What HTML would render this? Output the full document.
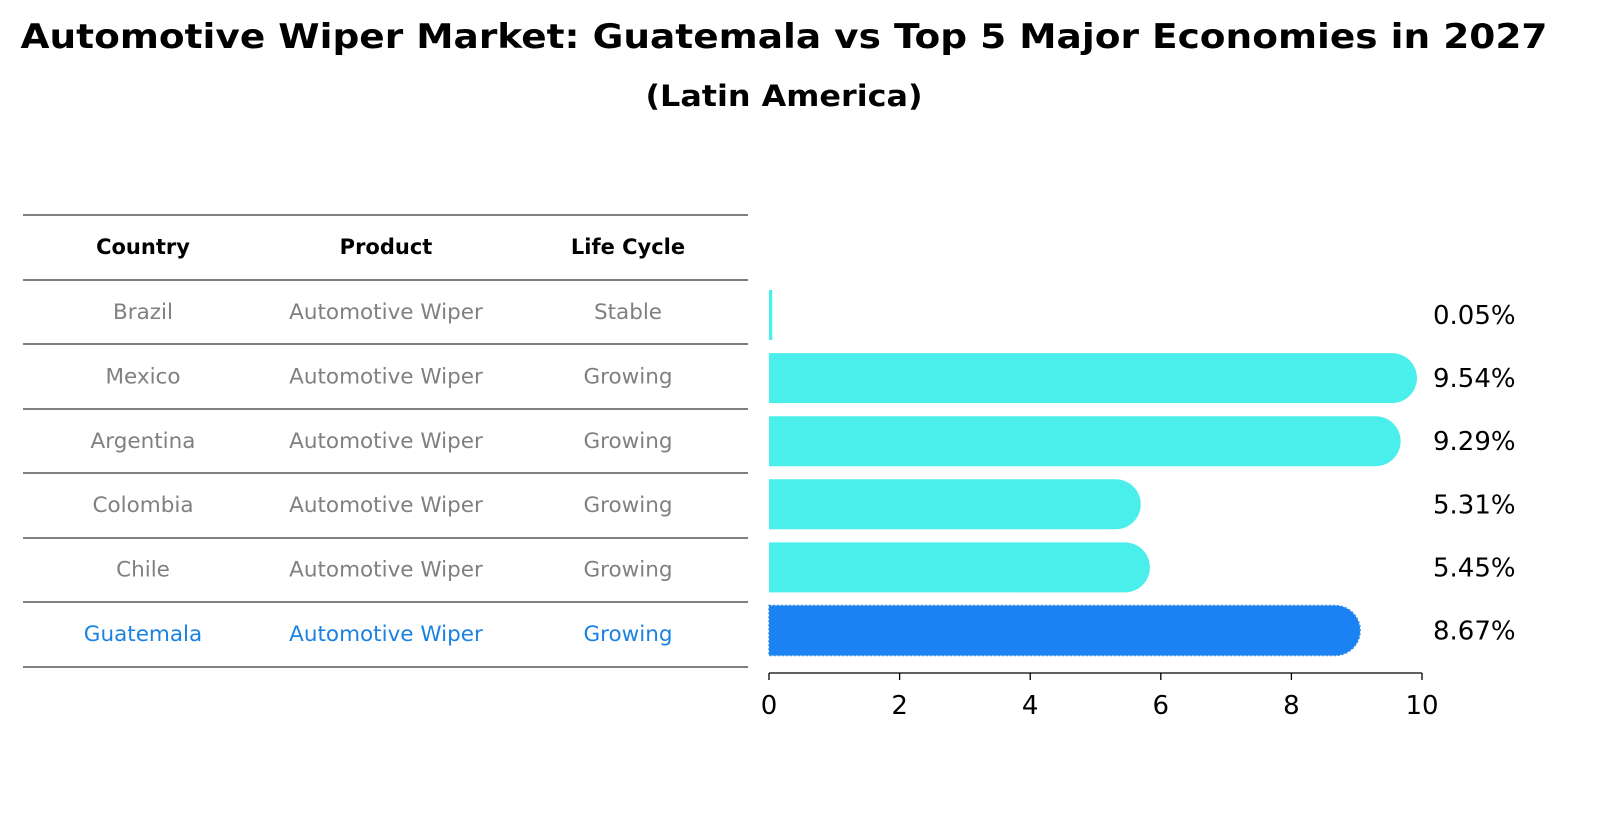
<!DOCTYPE html>
<html><head><meta charset="utf-8"><style>
body{margin:0;background:#fff;}
svg text{font-family:"DejaVu Sans","Liberation Sans",sans-serif;}
</style></head><body>
<svg id="c" width="1622" height="823" viewBox="0 0 1622 823" xmlns="http://www.w3.org/2000/svg">
<text x="784" y="48" text-anchor="middle" font-size="34" font-weight="bold" textLength="1527" lengthAdjust="spacingAndGlyphs">Automotive Wiper Market: Guatemala vs Top 5 Major Economies in 2027</text>
<text x="784" y="106" text-anchor="middle" font-size="29" font-weight="bold" textLength="277" lengthAdjust="spacingAndGlyphs">(Latin America)</text>
<g id="table"></g>
<g id="bars"></g>
<g id="axis"></g>
</svg>
<script>
const countries=["Brazil","Mexico","Argentina","Colombia","Chile","Guatemala"];
const products=["Automotive Wiper","Automotive Wiper","Automotive Wiper","Automotive Wiper","Automotive Wiper","Automotive Wiper"];
const cycles=["Stable","Growing","Growing","Growing","Growing","Growing"];
const values=[0.05,9.54,9.29,5.31,5.45,8.67];
const ticks=[0,2,4,6,8,10];
const NS="http://www.w3.org/2000/svg";
function mk(t,a,p){const e=document.createElementNS(NS,t);for(const k in a)e.setAttribute(k,a[k]);p.appendChild(e);return e;}
const sx=v=>769+v*65.3;
const rowC=i=>315+i*63.1;
const tb=document.getElementById('table');
const ly=[215,280,344,409,473,538,602,667];
ly.forEach(y=>{const l=mk('line',{x1:23,x2:748,y1:y,y2:y,stroke:'#000','stroke-width':1},tb);

});
const cx=[143,386,628];
["Country","Product","Life Cycle"].forEach((h,j)=>{const t=mk('text',{x:cx[j],y:254,'text-anchor':'middle','font-size':21,'font-weight':'bold'},tb);t.textContent=h;

});
countries.forEach((c,i)=>{const col=i===5?'#1a82e2':'#808080';[c,products[i],cycles[i]].forEach((s,j)=>{const t=mk('text',{x:cx[j],y:319+i*64.4,'text-anchor':'middle','font-size':21.5,fill:col},tb);t.textContent=s;

});});
const bg=document.getElementById('bars');
values.forEach((v,i)=>{const col=i===5?'#1a82f2':'#4aeeea';const y=rowC(i)-25;const w=sx(v)-sx(0);
let e;
if(v<0.5){e=mk('rect',{x:sx(0),y:y,width:Math.max(w,3),height:50,fill:col},bg);}
else{e=mk('path',{d:`M${sx(0)},${y}H${sx(v)}A25,25 0 0 1 ${sx(v)},${y+50}H${sx(0)}Z`,fill:col},bg);
if(i===5){e.setAttribute('stroke','#3a90e0');e.setAttribute('stroke-dasharray','2 2');e.setAttribute('stroke-width','1.5');}}


const t=mk('text',{x:1433,y:rowC(i)+9,'font-size':26},bg);t.textContent=v.toFixed(2)+'%';

});
const ax=document.getElementById('axis');
mk('line',{x1:sx(0),x2:sx(10),y1:673,y2:673,stroke:'#000','stroke-width':1.3},ax);
ticks.forEach(t=>{mk('line',{x1:sx(t),x2:sx(t),y1:673,y2:680,stroke:'#000','stroke-width':1.3},ax);const e=mk('text',{x:sx(t),y:714,'text-anchor':'middle','font-size':26},ax);e.textContent=t;

});
</script>
</body></html>
